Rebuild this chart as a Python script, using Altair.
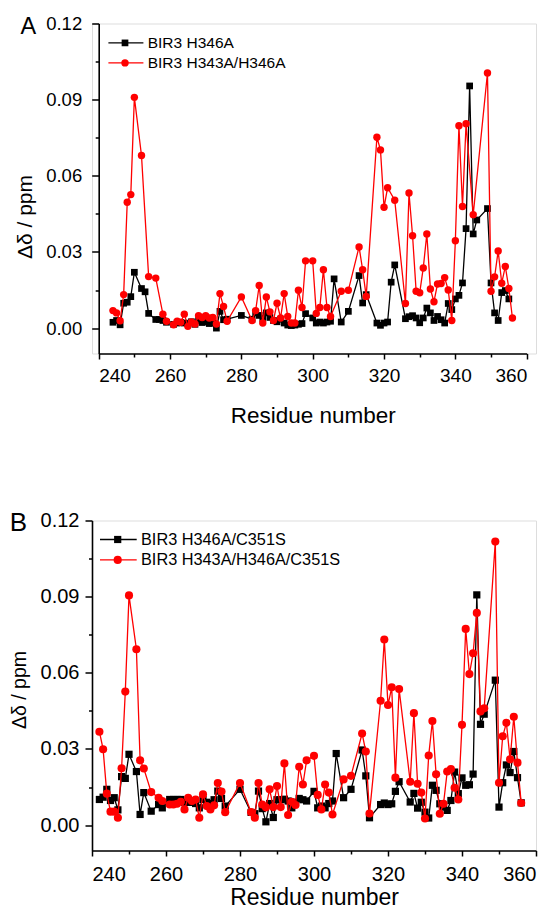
import altair as alt
import pandas as pd

# ---------------- Panel A data ----------------
a_black_res = [244, 245, 246, 247, 248, 249, 250, 252, 253, 254, 256, 257, 258, 259, 261, 262, 263, 264, 265, 266,
               267, 268, 269, 270, 271, 272, 273, 274, 275, 276, 280, 283, 284, 285, 286, 287, 288, 289, 290, 291,
               292, 293, 294, 295, 296, 297, 298, 300, 301, 302, 303, 304, 305, 306, 308, 310, 313, 314, 315, 318,
               319, 320, 321, 322, 323, 326, 327, 328, 329, 330, 331, 332, 333, 334, 335, 336, 337, 338, 339, 340,
               341, 342, 343, 344, 345, 346, 349, 350, 351, 352, 353, 354, 355]
a_black_val = [0.0023, 0.003, 0.0013, 0.0098, 0.0102, 0.0124, 0.022, 0.0156, 0.0143, 0.0058, 0.0034, 0.0034, 0.003,
               0.0023, 0.0015, 0.002, 0.0022, 0.002, 0.0018, 0.0025, 0.0015, 0.003, 0.0022, 0.0025, 0.0018, 0.002,
               0.0, 0.0066, 0.0033, 0.0035, 0.005, 0.0035, 0.006, 0.005, 0.0038, 0.006, 0.0042, 0.003, 0.0025,
               0.0035, 0.002, 0.0012, 0.001, 0.0012, 0.0015, 0.0018, 0.0057, 0.004, 0.002, 0.0024, 0.002, 0.0024,
               0.0027, 0.0194, 0.0024, 0.0066, 0.0207, 0.0099, 0.0132, 0.002, 0.0011, 0.002, 0.0024, 0.0181, 0.0249,
               0.0037, 0.0045, 0.0049, 0.004, 0.0021, 0.004, 0.0079, 0.006, 0.003, 0.0046, 0.0033, 0.002, 0.0097,
               0.0073, 0.0115, 0.0129, 0.0178, 0.0392, 0.0954, 0.0371, 0.0426, 0.0471, 0.0178, 0.006, 0.003, 0.014,
               0.0148, 0.0115]
a_red_res = [244, 245, 246, 247, 248, 249, 250, 252, 254, 256, 258, 259, 261, 262, 263, 264, 265, 266, 267, 268,
             269, 270, 271, 272, 273, 274, 275, 276, 280, 283, 284, 285, 286, 287, 288, 289, 290, 291, 292, 293,
             294, 295, 296, 297, 298, 300, 301, 302, 303, 304, 305, 308, 310, 313, 314, 315, 318, 319, 320, 321,
             323, 326, 327, 328, 329, 330, 331, 332, 333, 334, 335, 336, 337, 338, 339, 340, 341, 342, 343, 345,
             349, 350, 351, 352, 353, 354, 355, 356]
a_red_val = [0.0069, 0.006, 0.0029, 0.0132, 0.0496, 0.0526, 0.0909, 0.068, 0.0203, 0.0197, 0.0055, 0.0027, 0.0013,
             0.0027, 0.0023, 0.0055, 0.0007, 0.0024, 0.0016, 0.0049, 0.0042, 0.0049, 0.004, 0.0042, 0.0016, 0.0136,
             0.0085, 0.0027, 0.0123, 0.003, 0.0069, 0.0168, 0.002, 0.0123, 0.0064, 0.003, 0.0098, 0.004, 0.0136,
             0.0046, 0.002, 0.002, 0.0149, 0.0081, 0.0265, 0.0265, 0.0058, 0.0081, 0.023, 0.0081, 0.0046, 0.0145,
             0.0149, 0.032, 0.023, 0.0125, 0.0752, 0.0702, 0.0476, 0.0553, 0.0504, 0.0097, 0.0532, 0.0364, 0.0145,
             0.0139, 0.0237, 0.0371, 0.0154, 0.0104, 0.0174, 0.0176, 0.0199, 0.015, 0.003, 0.0344, 0.0797, 0.0479,
             0.0805, 0.0447, 0.1005, 0.0145, 0.0202, 0.0304, 0.0177, 0.0243, 0.0156, 0.004]

# ---------------- Panel B data ----------------
b_black_res = [242, 243, 244, 245, 246, 247, 248, 249, 250, 252, 253, 254, 256, 258, 259, 261, 262, 263, 264, 265,
               266, 267, 268, 269, 270, 271, 272, 273, 274, 275, 276, 280, 283, 284, 285, 286, 287, 288, 289, 290,
               291, 292, 293, 294, 295, 296, 297, 298, 300, 301, 302, 303, 304, 305, 306, 308, 310, 313, 314, 315,
               318, 319, 320, 321, 322, 323, 326, 327, 328, 329, 330, 331, 332, 333, 334, 335, 336, 337, 338, 339,
               340, 341, 342, 343, 344, 345, 346, 349, 350, 351, 352, 353, 354, 355, 356]
b_black_val = [0.0101, 0.011, 0.0141, 0.0097, 0.0108, 0.006, 0.0191, 0.0184, 0.0279, 0.0211, 0.0042, 0.0128, 0.0055,
               0.0081, 0.0068, 0.0101, 0.0101, 0.0101, 0.0101, 0.009, 0.009, 0.009, 0.0085, 0.0068, 0.0101, 0.009,
               0.0085, 0.01, 0.0134, 0.0105, 0.0075, 0.0141, 0.005, 0.0045, 0.0134, 0.0065, 0.0013, 0.0085, 0.003,
               0.01, 0.01, 0.0102, 0.0095, 0.0068, 0.009, 0.0105, 0.01, 0.0095, 0.0133, 0.0068, 0.0075, 0.0068,
               0.0085, 0.0095, 0.0282, 0.0108, 0.0141, 0.0296, 0.0194, 0.0029, 0.0081, 0.0087, 0.0081, 0.0084,
               0.0133, 0.0171, 0.0091, 0.0125, 0.0067, 0.009, 0.0051, 0.0028, 0.0157, 0.0137, 0.0084, 0.0071, 0.0058,
               0.0097, 0.0209, 0.0124, 0.0186, 0.0157, 0.0159, 0.0201, 0.0907, 0.0397, 0.0437, 0.0571, 0.0071, 0.0167,
               0.0237, 0.0207, 0.029, 0.0187, 0.0088]
b_red_res = [242, 243, 244, 245, 246, 247, 248, 249, 250, 252, 253, 254, 256, 258, 259, 261, 262, 263, 264, 265,
             266, 267, 268, 269, 270, 271, 272, 273, 274, 275, 276, 280, 283, 284, 285, 286, 287, 288, 289, 290,
             291, 292, 293, 294, 295, 296, 297, 298, 300, 301, 302, 303, 304, 305, 308, 310, 313, 314, 315, 318,
             319, 320, 321, 322, 323, 326, 327, 328, 329, 330, 331, 332, 333, 334, 335, 336, 337, 338, 339, 340,
             341, 342, 343, 344, 345, 346, 349, 350, 351, 352, 353, 354, 355, 356]
b_red_val = [0.0368, 0.0299, 0.0124, 0.0053, 0.0053, 0.0029, 0.0224, 0.0526, 0.0905, 0.0693, 0.0255, 0.0223, 0.013,
             0.0108, 0.0095, 0.0081, 0.0081, 0.0084, 0.0092, 0.0062, 0.0108, 0.0095, 0.0101, 0.0029, 0.0121, 0.0075,
             0.0062, 0.0078, 0.0166, 0.0132, 0.0051, 0.0166, 0.0051, 0.0029, 0.0166, 0.0081, 0.007, 0.0141, 0.0071,
             0.0154, 0.0071, 0.0243, 0.004, 0.0092, 0.0079, 0.023, 0.016, 0.0255, 0.0273, 0.0119, 0.0062, 0.016,
             0.0128, 0.0042, 0.018, 0.0194, 0.0361, 0.029, 0.0046, 0.049, 0.0731, 0.0473, 0.0543, 0.0187, 0.0536,
             0.0171, 0.0441, 0.0163, 0.0128, 0.0026, 0.0274, 0.041, 0.02, 0.0045, 0.0084, 0.0211, 0.0221, 0.0147,
             0.0101, 0.0395, 0.0773, 0.0595, 0.0677, 0.0836, 0.0448, 0.046, 0.1117, 0.0167, 0.035, 0.0403, 0.0259,
             0.0427, 0.0246, 0.0087]

a_labels = ["BIR3 H346A", "BIR3 H343A/H346A"]
b_labels = ["BIR3 H346A/C351S", "BIR3 H343A/H346A/C351S"]
x_ticks = list(range(240, 361, 10))
y_ticks = [0.0, 0.015, 0.03, 0.045, 0.06, 0.075, 0.09, 0.105, 0.12]

FONT = "Liberation Sans"
MAJOR_Y = "abs(datum.value / 0.03 - round(datum.value / 0.03)) < 0.01"


def panel(black_res, black_val, red_res, red_val, labels, letter, c):
    xaxis = alt.Axis(values=x_ticks, format="d", title="Residue number",
                     labelExpr="datum.value % 20 === 0 ? datum.label : ''",
                     tickSize={"condition": {"test": "datum.value % 20 === 0", "value": 5.5}, "value": 3.5},
                     labelFontSize=c["lab"], titleFontSize=c["tit"], labelFont=FONT, titleFont=FONT,
                     titleFontWeight="normal", labelColor="black", titleColor="black", domainColor="black",
                     tickColor="black", domainWidth=1.6, tickWidth=1.5, grid=False,
                     labelPadding=c["xlp"], titlePadding=c["xtp"])
    yaxis = alt.Axis(values=y_ticks, format=".2f", title="Δδ / ppm",
                     labelExpr=MAJOR_Y + " ? datum.label : ''",
                     tickSize={"condition": {"test": MAJOR_Y, "value": 7}, "value": 3.5},
                     labelFontSize=c["ylab"], titleFontSize=c["ytit"], labelFont=FONT, titleFont=FONT,
                     titleFontWeight="normal", labelColor="black", titleColor="black", domainColor="black",
                     tickColor="black", domainWidth=1.6, tickWidth=1.5, grid=False, offset=c["yoff"],
                     labelPadding=c["ylp"], titleX=c["ttx"], titleY=c["tty"], titleAngle=270,
                     titleAlign="center", titleBaseline="middle")
    xenc = alt.X("res:Q", scale=alt.Scale(domain=[240, 360], range=c["xrange"], nice=False, zero=False), axis=xaxis)
    yenc = alt.Y("val:Q", scale=alt.Scale(domain=[-0.01, 0.12], nice=False, zero=False), axis=yaxis)

    dfk = pd.DataFrame({"res": black_res, "val": black_val})
    dfr = pd.DataFrame({"res": red_res, "val": red_val})
    bk = alt.Chart(dfk).encode(x=xenc, y=yenc)
    rd = alt.Chart(dfr).encode(x=xenc, y=yenc)
    layers = [
        bk.mark_line(color="black", strokeWidth=1.3),
        bk.mark_point(shape="square", filled=True, color="black", size=c["sq"], opacity=1),
        rd.mark_line(color="red", strokeWidth=1.3),
        rd.mark_point(shape="circle", filled=True, color="red", size=c["ci"], opacity=1),
    ]
    styles = [("black", "square", c["sq"]), ("red", "circle", c["ci"])]
    for i, (lab, (col, shp, sz)) in enumerate(zip(labels, styles)):
        ly = c["ly"][i]
        d = alt.Chart(pd.DataFrame({"label": [lab]}))
        layers.append(d.mark_rule(color=col, strokeWidth=1.3).encode(
            x=alt.value(c["lx1"]), x2=alt.value(c["lx2"]), y=alt.value(ly)))
        layers.append(d.mark_point(shape=shp, filled=True, color=col, size=sz, opacity=1).encode(
            x=alt.value(c["lm"]), y=alt.value(ly)))
        layers.append(d.mark_text(align="left", baseline="middle", fontSize=c["leg"], font=FONT,
                                  color="black").encode(x=alt.value(c["lt"]), y=alt.value(ly), text="label:N"))
    layers.append(alt.Chart(pd.DataFrame({"label": [letter]})).mark_text(
        align="center", baseline="middle", fontSize=c["let"], font=FONT, color="black").encode(
        x=alt.value(c["letx"]), y=alt.value(c["lety"]), text="label:N"))
    return alt.layer(*layers).properties(width=444, height=330)


cA = dict(lab=19, ylab=18.5, tit=22.5, ytit=21, xlp=7, xtp=19, ylp=10, yoff=-6.7, xrange=[6.7, 434.7],
          ttx=-73.7, tty=193, sq=45, ci=55,
          ly=[19.4, 39.4], lx1=16.4, lx2=51.4, lm=33, lt=55.7, leg=15.5, let=23.5, letx=-63.6, lety=3.4)
cB = dict(lab=20, ylab=20, tit=23, ytit=19.5, xlp=8, xtp=2, ylp=6, yoff=0, xrange=[0, 444],
          ttx=-72.8, tty=169, sq=52, ci=66,
          ly=[19, 39.4], lx1=8, lx2=44.7, lm=25.7, lt=49, leg=16.3, let=26, letx=-73.6, lety=2.5)

pA = panel(a_black_res, a_black_val, a_red_res, a_red_val, a_labels, "A", cA)
pB = panel(b_black_res, b_black_val, b_red_res, b_red_val, b_labels, "B", cB)

chart = alt.vconcat(pA, pB, spacing=82).properties(
    padding={"left": 0, "top": 5.5, "right": 5, "bottom": 0}
).configure_view(stroke=None).configure(font=FONT)

chart.save("out.html", embed_options={"renderer": "svg", "actions": False})
